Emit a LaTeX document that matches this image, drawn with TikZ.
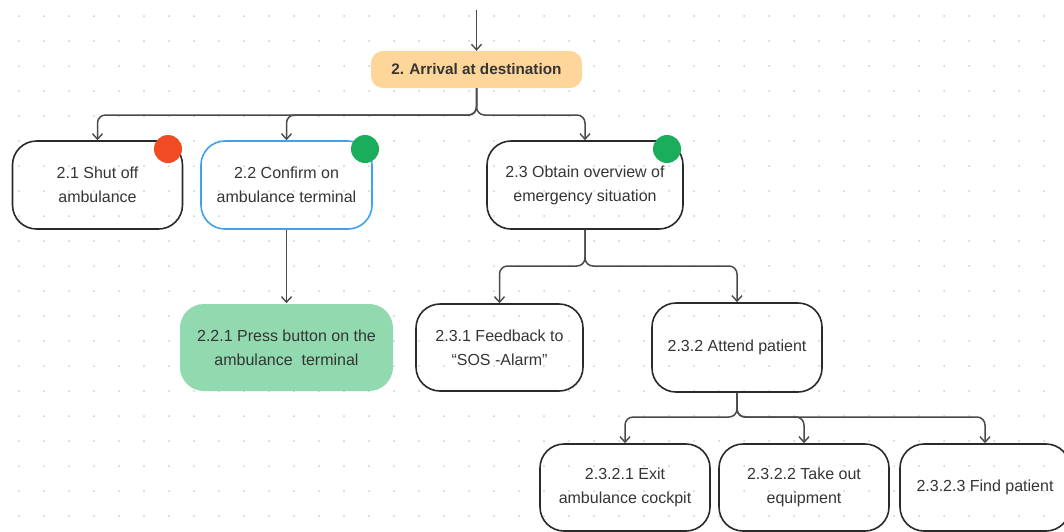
\documentclass[tikz,border=0pt]{standalone}
\usepackage{fontspec}
\setmainfont{Liberation Sans}
\usetikzlibrary{arrows.meta}

\definecolor{inkc}{HTML}{353535}
\definecolor{linec}{HTML}{4A4A4A}
\definecolor{edgec}{HTML}{2A2A2A}
\definecolor{dotc}{HTML}{CDCDCD}
\definecolor{orangefill}{HTML}{FED391}
\definecolor{greenfill}{HTML}{88D6A9}
\definecolor{bluec}{HTML}{3DA2F2}
\definecolor{redc}{HTML}{F04B24}
\definecolor{greenc}{HTML}{19AD5C}

\tikzset{
  stepbox/.style={draw=edgec, line width=1.6pt, rounded corners=24pt,
    align=center, text=inkc, inner sep=0pt,
    font=\fontsize{16}{24}\selectfont},
  conn/.style={draw=linec, line width=1.5pt, rounded corners=8pt,
    -{Straight Barb[length=5.5pt,width=10pt,line width=1.4pt]}},
  badge/.style={circle, inner sep=0pt, minimum size=28pt},
}

\begin{document}
\begin{tikzpicture}[x=1pt, y=-1pt]
\useasboundingbox (0,0) rectangle (1064,531);
\fill[white] (0,0) rectangle (1064,531);

% dotted canvas
\foreach \i in {0,...,42}
  \foreach \j in {0,...,21}
    \fill[dotc] ({19+25*\i},{16+25*\j}) circle (1pt);

% top level step
\node[fill=orangefill, fill opacity=0.92, text opacity=1, rounded corners=12pt,
      minimum width=211pt, minimum height=37pt, inner sep=0pt, text=inkc,
      font=\fontsize{15.3}{18}\selectfont\bfseries]
  (arr) at (476.5,69.5) {2.\,\,Arrival at destination};
\coordinate (top) at (476.5,10);
\draw[conn] (top) -- (arr.north);

% second level
\node[stepbox, minimum width=170pt, minimum height=88pt] (s21) at (97.5,185)
  {2.1 Shut off\\ambulance};
\node[stepbox, draw=bluec, minimum width=171pt, minimum height=88pt] (s22) at (286.5,185)
  {2.2 Confirm on\\ambulance terminal};
\node[stepbox, minimum width=196pt, minimum height=88pt] (s23) at (585,185)
  {2.3 Obtain overview of\\emergency situation};

\node[badge, fill=redc]   (b21) at (168,149) {};
\node[badge, fill=greenc] (b22) at (365,149) {};
\node[badge, fill=greenc] (b23) at (667,149) {};

\coordinate (j1) at (476.5,115);
\draw[conn] (arr.south) -- (j1) -| (s21.north);
\draw[conn] (arr.south) -- (j1) -| (s22.north);
\draw[conn] (arr.south) -- (j1) -| (s23.north);

% third level
\node[stepbox, draw=none, fill=greenfill, fill opacity=0.92, text opacity=1,
      minimum width=213pt, minimum height=87pt] (s221) at (286.5,347.5)
  {2.2.1 Press button on the\\ambulance\ \ terminal};
\node[stepbox, minimum width=167pt, minimum height=87pt] (s231) at (499.5,347.5)
  {2.3.1 Feedback to\\``SOS -Alarm''};
\node[stepbox, minimum width=170pt, minimum height=89pt] (s232) at (737,347.5)
  {2.3.2 Attend patient};

\draw[conn] (s22.south) -- (s221.north);
\coordinate (j2) at (585,266);
\draw[conn] (s23.south) -- (j2) -| (s231.north);
\draw[conn] (s23.south) -- (j2) -| (s232.north);

% fourth level
\node[stepbox, minimum width=170pt, minimum height=87pt] (s2321) at (625,487.5)
  {2.3.2.1 Exit\\ambulance cockpit};
\node[stepbox, minimum width=170pt, minimum height=87pt] (s2322) at (804,487.5)
  {2.3.2.2 Take out\\equipment};
\node[stepbox, minimum width=170pt, minimum height=87pt] (s2323) at (985,487.5)
  {2.3.2.3 Find patient};

\coordinate (j3) at (737,417);
\draw[conn] (s232.south) -- (j3) -| (s2321.north);
\draw[conn] (s232.south) -- (j3) -| (s2322.north);
\draw[conn] (s232.south) -- (j3) -| (s2323.north);
\end{tikzpicture}
\end{document}
